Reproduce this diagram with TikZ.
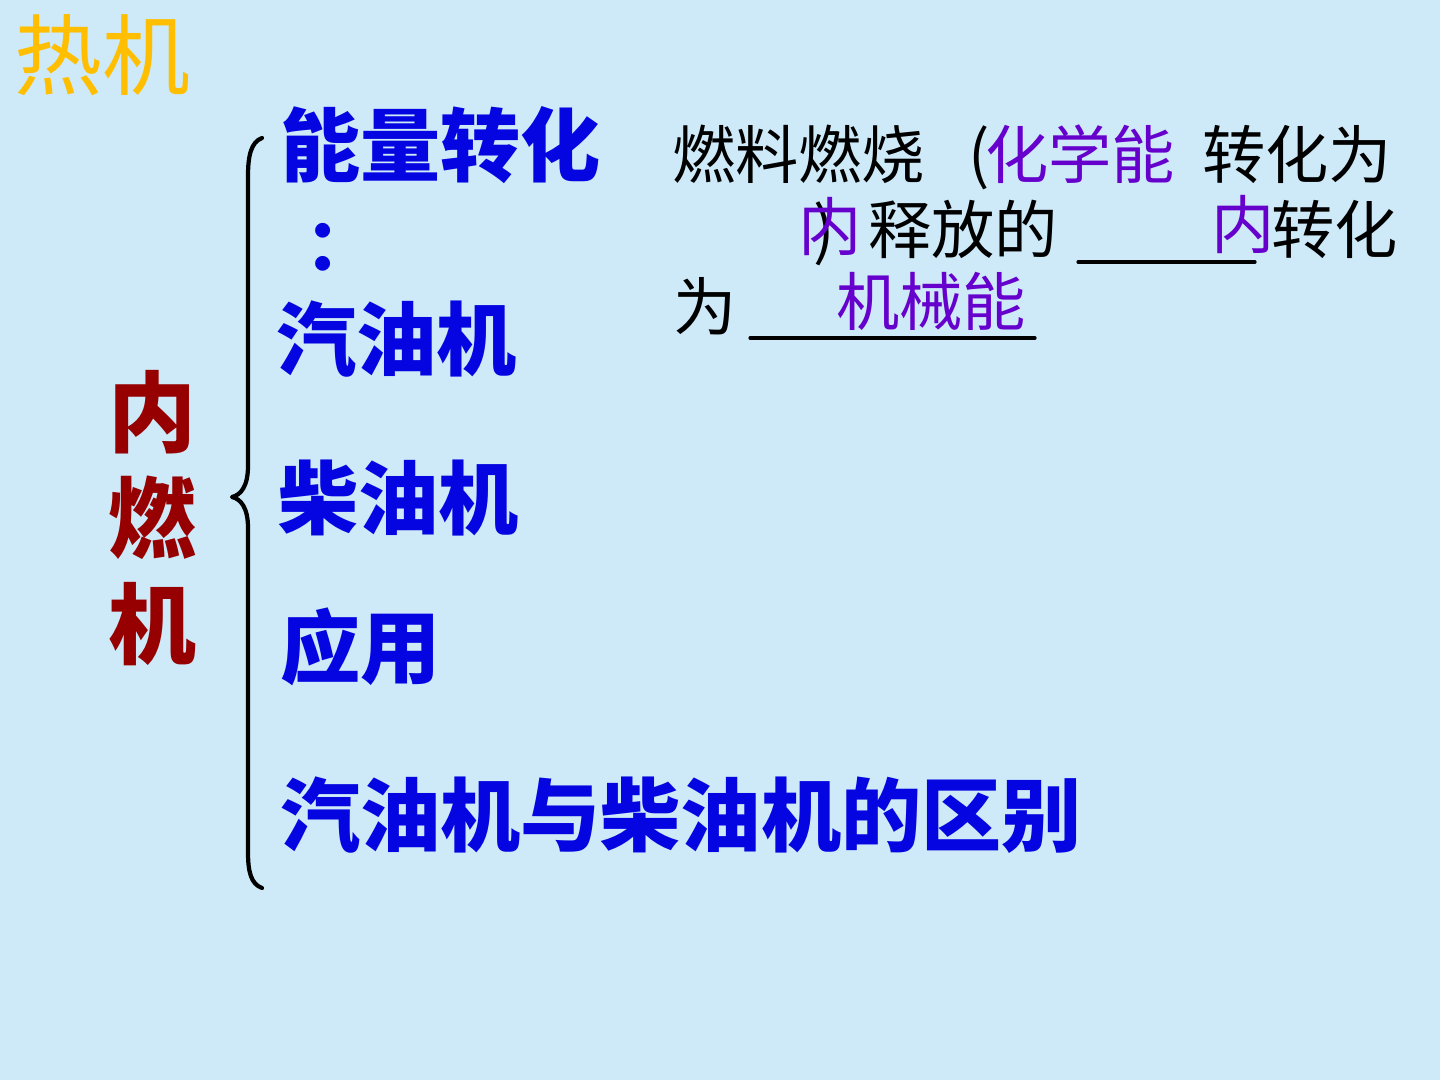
\documentclass[tikz,border=0pt]{standalone}
\usepackage{fontspec}
\newfontfamily\cjk{Noto Sans CJK SC}
\definecolor{bgblue}{RGB}{206,234,248}
\definecolor{titleorange}{RGB}{255,190,0}
\definecolor{headblue}{RGB}{5,5,225}
\definecolor{darkred}{RGB}{150,0,0}
\definecolor{answerpurple}{RGB}{102,0,204}
\begin{document}
\begin{tikzpicture}[x=0.01cm, y=-0.01cm, line join=round, line cap=round,
    every node/.style={inner sep=0pt, outer sep=0pt},
    head/.style={text=headblue, font=\cjk\bfseries\fontsize{22.8}{27}\selectfont},
    plain/.style={anchor=west, font=\cjk\fontsize{18}{22}\selectfont},
    answer/.style={plain, text=answerpurple}]
    \def\lineA{154} % ink centres of the three text lines
    \def\lineB{229}
    \def\lineC{306}
    \fill[bgblue] (0,0) rectangle (1440,1080);
    \useasboundingbox (0,0) rectangle (1440,1080);
    \node[text=titleorange, font=\cjk\fontsize{25}{30}\selectfont] (title) at (102,55) {热机};
    % vertical name
    \foreach \ch [count=\i] in {内,燃,机}
        \node[text=darkred, font=\cjk\bfseries\fontsize{25}{30}\selectfont] (name-\i) at (152,306+\i*106) {\ch};
    % brace
    \coordinate (brace top) at (262,138);
    \coordinate (brace tip) at (232,497);
    \coordinate (brace bot) at (262,888);
    \draw[line width=1.2pt] (brace top) .. controls (251,142) and (248,156) .. (248,176) -- (248,466)
        .. controls (248,486) and (241,495) .. (brace tip) .. controls (241,499) and (248,508) .. (248,528)
        -- (248,852) .. controls (248,872) and (251,884) .. (brace bot);
    % branches
    \node[head, anchor=west] (energy) at (280,145) {能量转化};
    \node[head, anchor=west, font=\cjk\bfseries\fontsize{20}{24}\selectfont] (colon) at (305,247) {：};
    \node[head, anchor=west] (petrol) at (276,339) {汽油机};
    \node[head, anchor=west] (diesel) at (278,498) {柴油机};
    \node[head, anchor=west] (usage) at (280,647) {应用};
    \node[head, anchor=west] (diff) at (280,815) {汽油机与柴油机的区别};
    % energy sentence
    \node[plain] (l1a) at (672,\lineA) {燃料燃烧};
    \node[plain] (l1b) at (968,\lineA+4) {(};
    \node[answer] (l1c) at (985,\lineA) {化学能};
    \node[plain] (l1d) at (1202,\lineA) {转化为};
    \node[plain] (l2a) at (813,\lineB+5) {)};
    \node[answer] (l2b) at (798,\lineB-2) {内};
    \node[plain] (l2c) at (868,\lineB) {释放的};
    \coordinate (gap1 start) at (1078,262);
    \coordinate (gap1 end) at (1255,262);
    \draw[line width=0.9pt] (gap1 start) -- (gap1 end);
    \node[answer] (l2d) at (1211,\lineB-4) {内};
    \node[plain] (l2e) at (1271,\lineB) {转化};
    \node[plain] (l3a) at (673,\lineC) {为};
    \coordinate (gap2 start) at (750,338);
    \coordinate (gap2 end) at (1035,338);
    \draw[line width=0.9pt] (gap2 start) -- (gap2 end);
    \node[answer] (l3b) at (836,\lineC-5) {机械能};
\end{tikzpicture}
\end{document}
